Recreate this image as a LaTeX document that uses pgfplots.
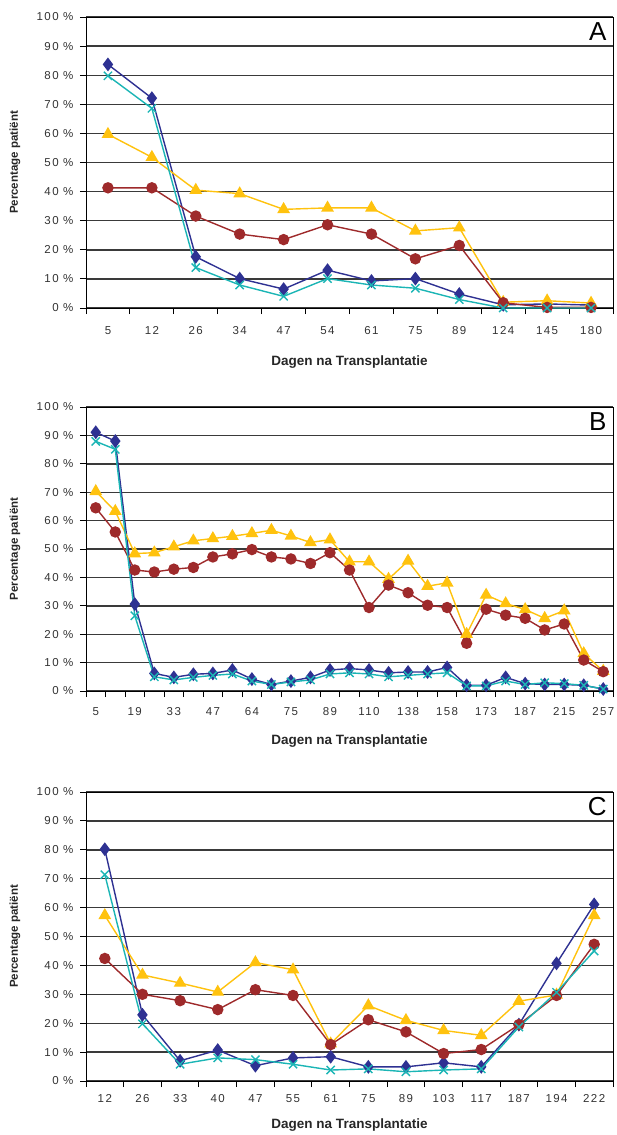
\documentclass[border=0pt]{standalone}
\usepackage{pgfplots}
\pgfplotsset{compat=1.18}
\usepackage{fontspec}
\setmainfont{Liberation Sans}
\newfontfamily\tickfont[LetterSpace=12]{Liberation Sans}
\definecolor{cblue}{HTML}{2E3192}
\definecolor{cred}{HTML}{9E2A2B}
\definecolor{cyel}{HTML}{FFC20E}
\definecolor{ccyan}{HTML}{1BB5B5}
\definecolor{cgrid}{HTML}{3A3A3A}

\pgfplotsset{
  panel/.style={
    width=527pt, scale only axis,
    ymin=0, ymax=100,
    ytick={0,10,...,100},
    yticklabels={0 \%,10 \%,20 \%,30 \%,40 \%,50 \%,60 \%,70 \%,80 \%,90 \%,100 \%},
    ymajorgrids,
    grid style={cgrid, line width=1.4pt},
    axis line style={black, line width=1pt},
    tick align=outside,
    major tick length=6pt,
    tick style={black, line width=1pt},
    ytick pos=left,
    xtick pos=bottom,
    ticklabel style={font=\tickfont\fontsize{11.5}{13}\selectfont, text=black!80},
    yticklabel style={xshift=-3pt},
    xticklabels={},
    extra x tick style={major tick length=0pt, grid=none},
    every axis y label/.style={at={(axis description cs:0,0.5)}, xshift=-71pt, rotate=90, anchor=center, font=\bfseries\fontsize{11.5}{13}\selectfont, text=black!85},
    every axis x label/.style={at={(axis description cs:0.5,0)}, anchor=center, font=\bfseries\fontsize{13.5}{15}\selectfont, text=black!85},
    ylabel={Percentage patiënt},
    xlabel={Dagen na Transplantatie},
    clip=false,
  },
  sblue/.style={color=cblue, line width=1.4pt, mark=diamond*, mark size=5.8pt, mark options={fill=cblue}},
  sred/.style={color=cred, line width=1.4pt, mark=*, mark size=5pt, mark options={fill=cred}},
  syel/.style={color=cyel, line width=1.4pt, mark=triangle*, mark size=6pt, mark options={fill=cyel}},
  scyan/.style={color=ccyan, line width=1.4pt, mark=x, mark size=5.8pt},
}

\begin{document}
\begin{tikzpicture}
\useasboundingbox (0,0) rectangle (616pt,-1135pt);

% ---------------- Panel A ----------------
\begin{axis}[panel, at={(86pt,-308pt)}, anchor=south west, height=291pt,
  xmin=-0.5, xmax=11.5,
  xtick={-0.5,0.5,...,11.5},
  extra x ticks={0,1,...,11},
  extra x tick labels={5,12,26,34,47,54,61,75,89,124,145,180},
  xticklabel style={yshift=-15pt},
  xlabel style={yshift=-54pt},
]
\addplot[sblue] coordinates {(0,83.7)(1,72.1)(2,17.6)(3,10.1)(4,6.5)(5,13.0)(6,9.3)(7,10.1)(8,4.8)(9,1.1)(10,1.4)(11,1.0)};
\addplot[syel] coordinates {(0,59.7)(1,51.8)(2,40.5)(3,39.3)(4,33.9)(5,34.4)(6,34.4)(7,26.5)(8,27.6)(9,2.0)(10,2.5)(11,1.7)};
\addplot[sred] coordinates {(0,41.3)(1,41.3)(2,31.6)(3,25.4)(4,23.5)(5,28.6)(6,25.4)(7,16.9)(8,21.5)(9,1.8)(10,0.2)(11,0.2)};
\addplot[scyan] coordinates {(0,79.8)(1,68.6)(2,13.9)(3,7.9)(4,4.0)(5,10.1)(6,7.9)(7,6.8)(8,2.9)(9,0)(10,0)(11,0)};
\node[anchor=north east, font=\fontsize{26}{28}\selectfont, fill=white, inner sep=1pt] at (rel axis cs:0.99,0.985) {A};
\end{axis}

% ---------------- Panel B ----------------
\begin{axis}[panel, at={(86pt,-691pt)}, anchor=south west, height=284pt,
  xmin=-0.5, xmax=26.5,
  xtick={-0.5,0.5,...,26.5},
  extra x ticks={0,2,...,26},
  extra x tick labels={5,19,33,47,64,75,89,110,138,158,173,187,215,257},
  xticklabel style={yshift=-13pt},
  xlabel style={yshift=-50pt},
]
\addplot[sblue] coordinates {(0,91.1)(1,88.0)(2,30.6)(3,6.2)(4,4.8)(5,5.9)(6,6.2)(7,7.4)(8,4.2)(9,2.3)(10,3.5)(11,4.8)(12,7.4)(13,7.9)(14,7.4)(15,6.4)(16,6.7)(17,6.7)(18,8.3)(19,2.0)(20,2.0)(21,4.8)(22,2.6)(23,2.3)(24,2.3)(25,2.0)(26,0.7)};
\addplot[syel] coordinates {(0,70.3)(1,63.3)(2,48.4)(3,48.7)(4,50.8)(5,52.9)(6,53.7)(7,54.5)(8,55.5)(9,56.6)(10,54.6)(11,52.3)(12,53.3)(13,45.5)(14,45.5)(15,39.4)(16,45.8)(17,36.9)(18,38.1)(19,20.0)(20,33.8)(21,30.8)(22,28.7)(23,25.6)(24,28.3)(25,13.2)(26,7.0)};
\addplot[sred] coordinates {(0,64.5)(1,56.0)(2,42.6)(3,41.9)(4,42.9)(5,43.5)(6,47.2)(7,48.3)(8,49.8)(9,47.2)(10,46.5)(11,44.9)(12,48.7)(13,42.6)(14,29.4)(15,37.3)(16,34.6)(17,30.2)(18,29.4)(19,16.8)(20,28.8)(21,26.7)(22,25.6)(23,21.5)(24,23.6)(25,10.9)(26,6.8)};
\addplot[scyan] coordinates {(0,87.9)(1,85.1)(2,26.5)(3,5.0)(4,3.9)(5,4.8)(6,5.5)(7,6.0)(8,3.5)(9,2.3)(10,3.2)(11,3.9)(12,6.0)(13,6.4)(14,6.0)(15,5.0)(16,5.5)(17,6.0)(18,6.4)(19,1.8)(20,1.8)(21,3.5)(22,2.3)(23,2.9)(24,2.6)(25,2.0)(26,0.7)};
\node[anchor=north east, font=\fontsize{26}{28}\selectfont, fill=white, inner sep=1pt] at (rel axis cs:0.99,0.985) {B};
\end{axis}

% ---------------- Panel C ----------------
\begin{axis}[panel, at={(86pt,-1081pt)}, anchor=south west, height=289pt,
  xmin=-0.5, xmax=13.5,
  xtick={-0.5,0.5,...,13.5},
  extra x ticks={0,1,...,13},
  extra x tick labels={12,26,33,40,47,55,61,75,89,103,117,187,194,222},
  xticklabel style={yshift=-10pt},
  xlabel style={yshift=-44pt},
]
\addplot[sblue] coordinates {(0,80.2)(1,22.9)(2,7.0)(3,10.7)(4,5.3)(5,8.0)(6,8.4)(7,4.9)(8,4.9)(9,6.3)(10,4.9)(11,19.5)(12,40.7)(13,61.1)};
\addplot[syel] coordinates {(0,57.3)(1,36.7)(2,33.9)(3,30.8)(4,41.0)(5,38.5)(6,12.9)(7,26.1)(8,21.0)(9,17.5)(10,15.8)(11,27.6)(12,29.8)(13,57.3)};
\addplot[sred] coordinates {(0,42.4)(1,30.0)(2,27.8)(3,24.7)(4,31.6)(5,29.6)(6,12.6)(7,21.2)(8,17.0)(9,9.5)(10,10.9)(11,19.5)(12,29.6)(13,47.3)};
\addplot[scyan] coordinates {(0,71.4)(1,19.8)(2,5.8)(3,8.0)(4,7.4)(5,5.8)(6,3.8)(7,4.2)(8,3.2)(9,3.8)(10,4.2)(11,18.7)(12,30.7)(13,45.0)};
\node[anchor=north east, font=\fontsize{26}{28}\selectfont, fill=white, inner sep=1pt] at (rel axis cs:0.99,0.985) {C};
\end{axis}
\end{tikzpicture}
\end{document}
